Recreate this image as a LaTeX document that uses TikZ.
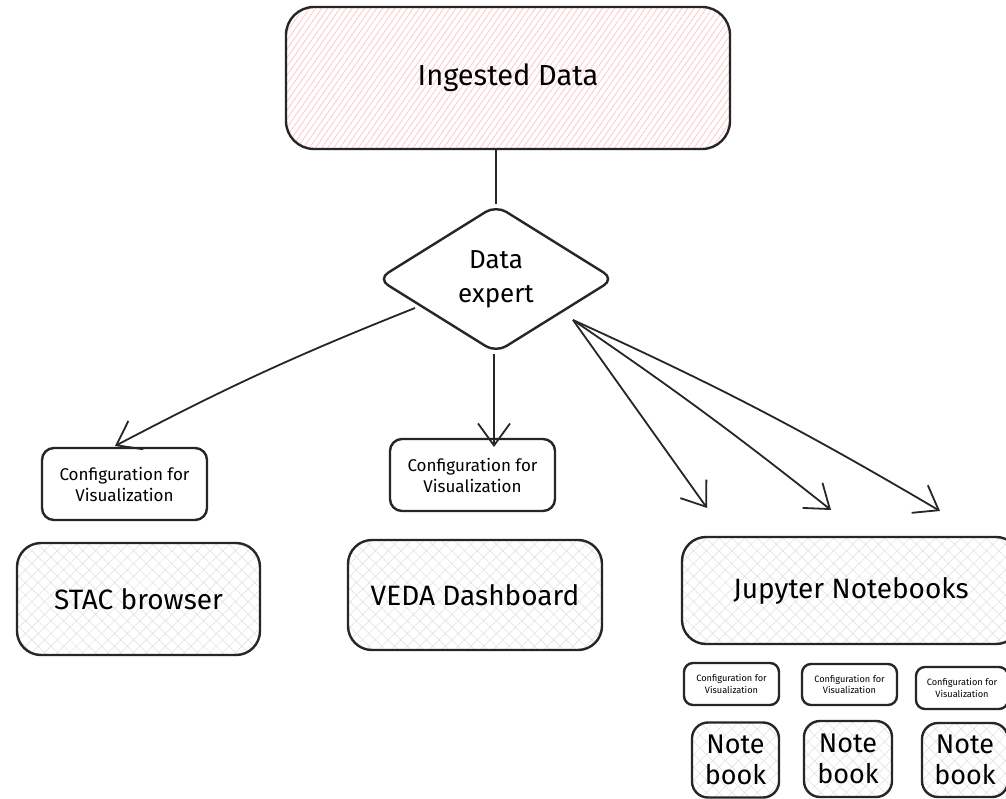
\documentclass[tikz,border=0pt]{standalone}
\usepackage{fontspec}
\setmainfont{Fira Sans}
\usetikzlibrary{arrows.meta,patterns.meta,shapes.geometric}
\begin{document}
\begin{tikzpicture}[x=1pt,y=-1pt,
  box/.style={draw=black!85, line width=2.4pt, rounded corners=#1, align=center, inner sep=0pt},
  box/.default=12pt,
  pinkfill/.style={pattern={Lines[angle=55,distance=5pt,line width=0.8pt]}, pattern color=red!22},
  greyfill/.style={pattern={Hatch[angle=45,distance=9pt,line width=0.5pt]}, pattern color=gray!25},
  conn/.style={draw=black!85, line width=1.8pt},
  arr/.style={conn, -{Straight Barb[length=22pt,width=32pt,line width=1.8pt]}},
  lbig/.style={font=\fontsize{28}{34}\selectfont},
  lmid/.style={font=\fontsize{17}{21}\selectfont},
  lsmall/.style={font=\fontsize{9.2}{11.5}\selectfont},
  lnote/.style={font=\fontsize{27}{31}\selectfont}
]
\useasboundingbox (0,0) rectangle (1006,799);
\fill[white] (0,0) rectangle (1006,799);

% top box
\node[box=28pt, pinkfill, minimum width=444pt, minimum height=142pt, font=\fontsize{29}{34}\selectfont] (ing) at (508,78) {Ingested Data};

% diamond
\node[draw=black!85, line width=2.4pt, diamond, rounded corners=12pt, minimum width=237pt, minimum height=148pt, inner sep=0pt, align=center, font=\fontsize{26}{34}\selectfont] (dx) at (496,279) {Data\\expert};

% left column
\node[box=12pt, minimum width=165pt, minimum height=72pt, lmid] (cfg1) at (124.5,484) {Configuration for\\Visualization};
\node[box=24pt, greyfill, minimum width=243pt, minimum height=112pt, lbig] (stac) at (138.5,599) {STAC browser};

% middle column
\node[box=12pt, minimum width=165pt, minimum height=72pt, lmid] (cfg2) at (472.5,475) {Configuration for\\Visualization};
\node[box=24pt, greyfill, minimum width=254pt, minimum height=110pt, lbig] (veda) at (475,595) {VEDA Dashboard};

% right column
\node[box=24pt, greyfill, minimum width=338pt, minimum height=107pt, lbig] (jup) at (851,590.5) {Jupyter Notebooks};

\node[box=9pt, minimum width=95pt, minimum height=42pt, lsmall] (sc1) at (731.5,684) {Configuration for\\Visualization};
\node[box=9pt, minimum width=95pt, minimum height=41pt, lsmall] (sc2) at (849.5,684.5) {Configuration for\\Visualization};
\node[box=9pt, minimum width=92pt, minimum height=42pt, lsmall] (sc3) at (962,688) {Configuration for\\Visualization};

\node[box=16pt, greyfill, minimum width=87pt, minimum height=75pt, lnote] (nb1) at (735.5,760) {Note\\book};
\node[box=16pt, greyfill, minimum width=88pt, minimum height=76pt, lnote] (nb2) at (848,759) {Note\\book};
\node[box=16pt, greyfill, minimum width=86pt, minimum height=74pt, lnote] (nb3) at (965,760) {Note\\book};

% connectors
\coordinate (dl) at (415,308);
\coordinate (dr) at (573,320);
\coordinate (t1) at (707,508);
\coordinate (t2) at (831,510);
\coordinate (t3) at (940,511);
\coordinate (c1top) at (115,446);
\coordinate (c2top) at (494,447);

\draw[conn] (ing.south -| dx.north) -- (dx.north);
\draw[arr] (dl) to[bend right=3] (c1top);
\draw[arr] (dx.south -| c2top) -- (c2top);
\draw[arr] (dr) -- (t1);
\draw[arr] (dr) to[bend left=2] (t2);
\draw[arr] (dr) to[bend left=3] (t3);
\end{tikzpicture}
\end{document}
